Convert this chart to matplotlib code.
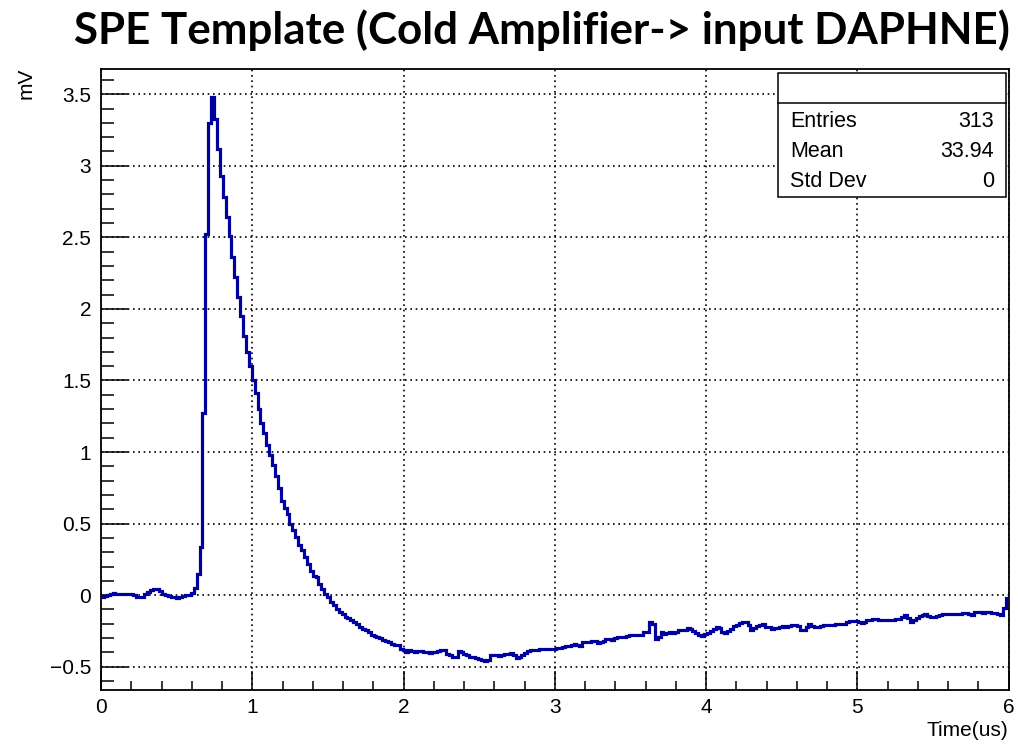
import numpy as np
import matplotlib
matplotlib.use("Agg")
import matplotlib.pyplot as plt
from matplotlib.patches import Rectangle
from matplotlib.lines import Line2D
from matplotlib.ticker import MultipleLocator

# ---------------- data ----------------
title = "SPE Template (Cold Amplifier-> input DAPHNE)"
x_label = "Time(us)"
y_label = "mV"
t_min, t_max = 0.0, 6.0
n_bins = 313
stats_labels = ["Entries", "Mean", "Std Dev"]
stats_values = ["313", "33.94", "0"]

amplitude_mV = [
    -0.01, -0.005, 0.0, 0.01, 0.016, 0.01, 0.005, 0.005, 0.01, 0.01,
    0.005, 0.0, -0.01, -0.016, -0.01, 0.01, 0.025, 0.035, 0.04, 0.04,
    0.03, 0.01, 0.0, -0.005, -0.01, -0.01, -0.02, -0.01, -0.005, 0.0,
    0.0, 0.016, 0.047, 0.15, 0.34, 1.27, 2.52, 3.30, 3.48, 3.33,
    3.12, 2.93, 2.78, 2.64, 2.51, 2.36, 2.22, 2.08, 1.95, 1.81,
    1.70, 1.60, 1.505, 1.41, 1.30, 1.20, 1.13, 1.05, 0.98, 0.91,
    0.83, 0.75, 0.66, 0.61, 0.565, 0.50, 0.455, 0.405, 0.35, 0.315,
    0.27, 0.22, 0.17, 0.135, 0.125, 0.08, 0.045, 0.01, -0.015, -0.045,
    -0.07, -0.095, -0.12, -0.135, -0.15, -0.16, -0.17, -0.186, -0.2, -0.22,
    -0.235, -0.245, -0.256, -0.275, -0.285, -0.291, -0.30, -0.31, -0.32, -0.33,
    -0.34, -0.345, -0.35, -0.373, -0.384, -0.396, -0.384, -0.39, -0.396, -0.39,
    -0.389, -0.395, -0.396, -0.407, -0.40, -0.396, -0.39, -0.385, -0.384, -0.41,
    -0.42, -0.43, -0.435, -0.39, -0.40, -0.41, -0.42, -0.43, -0.435, -0.44,
    -0.445, -0.455, -0.46, -0.45, -0.42, -0.415, -0.42, -0.425, -0.42, -0.412,
    -0.41, -0.407, -0.42, -0.442, -0.43, -0.415, -0.403, -0.39, -0.384, -0.384,
    -0.38, -0.377, -0.375, -0.373, -0.373, -0.373, -0.373, -0.37, -0.366, -0.36,
    -0.356, -0.352, -0.35, -0.342, -0.345, -0.356, -0.326, -0.326, -0.326, -0.32,
    -0.319, -0.333, -0.325, -0.319, -0.303, -0.305, -0.31, -0.30, -0.291, -0.291,
    -0.29, -0.286, -0.28, -0.275, -0.278, -0.28, -0.28, -0.256, -0.256, -0.186,
    -0.198, -0.303, -0.291, -0.256, -0.268, -0.265, -0.258, -0.262, -0.26, -0.24,
    -0.24, -0.242, -0.228, -0.235, -0.25, -0.262, -0.275, -0.282, -0.27, -0.262,
    -0.25, -0.235, -0.223, -0.23, -0.258, -0.265, -0.25, -0.235, -0.215, -0.205,
    -0.195, -0.19, -0.188, -0.211, -0.242, -0.23, -0.218, -0.21, -0.204, -0.22,
    -0.225, -0.235, -0.232, -0.228, -0.22, -0.218, -0.223, -0.215, -0.211, -0.211,
    -0.215, -0.24, -0.246, -0.225, -0.204, -0.215, -0.223, -0.22, -0.218, -0.211,
    -0.211, -0.211, -0.207, -0.204, -0.2, -0.2, -0.2, -0.19, -0.181, -0.181,
    -0.181, -0.19, -0.195, -0.188, -0.175, -0.171, -0.164, -0.168, -0.171, -0.171,
    -0.171, -0.171, -0.17, -0.171, -0.168, -0.164, -0.15, -0.141, -0.157, -0.188,
    -0.175, -0.157, -0.148, -0.141, -0.134, -0.145, -0.153, -0.15, -0.148, -0.141,
    -0.135, -0.129, -0.129, -0.129, -0.129, -0.13, -0.134, -0.128, -0.124, -0.135,
    -0.141, -0.12, -0.117, -0.12, -0.124, -0.117, -0.12, -0.124, -0.127, -0.129,
    -0.141, -0.09, -0.02,
]

# ---------------- figure ----------------
W, H = 1018, 745
fig = plt.figure(figsize=(W / 100, H / 100), dpi=100)
fig.patch.set_facecolor("white")

def fx(px):
    return px / W

def fy(py):
    return 1 - py / H

left, right, top, bottom = 101, 1008.5, 69.3, 689.5
ax = fig.add_axes([fx(left), fy(bottom), fx(right) - fx(left), fy(top) - fy(bottom)])

edges = np.linspace(t_min, t_max, n_bins + 1)
ax.stairs(np.array(amplitude_mV), edges, baseline=None,
          color="#00009c", linewidth=2.3, zorder=3)

ax.set_xlim(t_min, t_max)
ax.set_ylim(-0.659, 3.674)

tick_font = dict(family="Liberation Sans", size=15)
ax.xaxis.set_major_locator(MultipleLocator(1))
ax.xaxis.set_minor_locator(MultipleLocator(0.2))
ax.yaxis.set_major_locator(MultipleLocator(0.5))
ax.yaxis.set_minor_locator(MultipleLocator(0.1))

def fmt_y(v):
    s = ("%g" % v)
    return s.replace("-", "\u2212")

yt = np.arange(-0.5, 3.51, 0.5)
ax.set_yticks(yt)
ax.set_yticklabels([fmt_y(round(v, 1)) for v in yt], fontdict=tick_font)
xt = np.arange(0, 7, 1)
ax.set_xticks(xt)
ax.set_xticklabels([str(int(v)) for v in xt], fontdict=tick_font)

ax.tick_params(axis="y", which="major", direction="in", length=19.5, width=1.1,
               pad=7, left=True, right=False)
ax.tick_params(axis="y", which="minor", direction="in", length=9.5, width=1.1,
               left=True, right=False)
ax.tick_params(axis="x", which="major", direction="in", length=13.4, width=1.1,
               pad=6, bottom=True, top=False)
ax.tick_params(axis="x", which="minor", direction="in", length=6.7, width=1.1,
               bottom=True, top=False)

ax.grid(True, which="major", color="black", linewidth=1.2,
        linestyle=(0, (1, 2.2)), zorder=1)
for sp in ax.spines.values():
    sp.set_linewidth(1.3)
    sp.set_color("black")

# axis titles (ROOT style: right/top aligned)
fig.text(fx(1008), fy(731), x_label, ha="right", va="center",
         family="Liberation Sans", fontsize=15)
fig.text(fx(26), fy(68), y_label, ha="center", va="top", rotation=90,
         family="Liberation Sans", fontsize=15)

# stats box
bx0, bx1, by0, by1, bsep = 778, 1006, 72.7, 196.7, 103.3
fig.patches.append(Rectangle((fx(bx0), fy(by1)), fx(bx1) - fx(bx0), fy(by0) - fy(by1),
                             transform=fig.transFigure, facecolor="white",
                             edgecolor="black", linewidth=1.1, zorder=5))
fig.lines.append(Line2D([fx(bx0), fx(bx1)], [fy(bsep), fy(bsep)],
                        transform=fig.transFigure, color="black", linewidth=1.1, zorder=6))
row_y = [121.7, 151.7, 181.7]
for lab, val, ry in zip(stats_labels, stats_values, row_y):
    fig.text(fx(790), fy(ry), lab, ha="left", va="center",
             family="Liberation Sans", fontsize=15.5, zorder=7)
    fig.text(fx(994), fy(ry), val, ha="right", va="center",
             family="Liberation Sans", fontsize=15.5, zorder=7)

# title fitted to its width
ttl = fig.text(fx(541.5), fy(30), title, ha="center", va="center",
               family="Lato", fontweight="bold", fontsize=28)
renderer = fig.canvas.get_renderer()
bb = ttl.get_window_extent(renderer)
ttl.set_fontsize(28 * (937.0 / bb.width))

fig.savefig("out.png", dpi=100, facecolor="white")
